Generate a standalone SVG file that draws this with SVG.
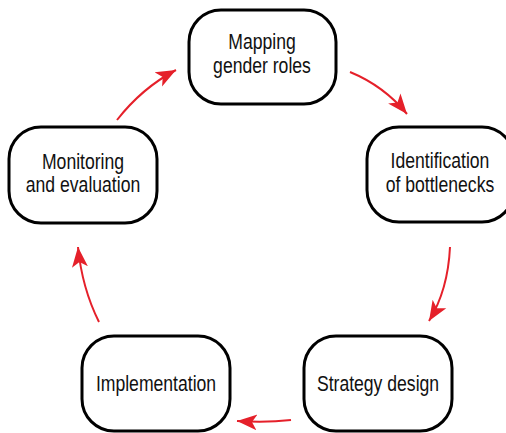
<svg xmlns="http://www.w3.org/2000/svg" width="506" height="433" viewBox="0 0 506 433">
<style>
.box{fill:#fff;stroke:#000;stroke-width:3}
.lbl{font-family:"Liberation Sans",Arial,sans-serif;font-size:22px;fill:#111;text-anchor:middle}
.arc{fill:none;stroke:#e5202a;stroke-width:2}
</style>
<defs>
<marker id="ah" markerUnits="userSpaceOnUse" markerWidth="22" markerHeight="18" refX="20" refY="8" orient="auto" viewBox="0 0 22 16">
<path d="M0,0 L20,8 L0,16 L5,8 Z" fill="#e5202a"/>
</marker>
</defs>
<rect width="506" height="433" fill="#fff"/>
<g id="connectors">
<path class="arc" marker-end="url(#ah)" d="M350,72 Q384,86 407,114"/>
<path class="arc" marker-end="url(#ah)" d="M450,247 Q448,290 429,321"/>
<path class="arc" marker-end="url(#ah)" d="M291,420 Q266,423 237,421"/>
<path class="arc" marker-end="url(#ah)" d="M99,322 Q82,288 78,247"/>
<path class="arc" marker-end="url(#ah)" d="M117,120 Q142,88 176,70"/>
</g>
<g id="mapping">
<rect class="box" x="189" y="10" width="147" height="94" rx="32"/>
<text class="lbl" transform="translate(262,49) scale(0.8,1)">Mapping</text>
<text class="lbl" transform="translate(262,73) scale(0.8,1)">gender roles</text>
</g>
<g id="identification">
<rect class="box" x="367" y="127" width="147" height="95" rx="32"/>
<text class="lbl" transform="translate(440,168) scale(0.8,1)">Identification</text>
<text class="lbl" transform="translate(440,192) scale(0.8,1)">of bottlenecks</text>
</g>
<g id="strategy">
<rect class="box" x="304" y="336" width="148" height="95" rx="32"/>
<text class="lbl" transform="translate(378,391) scale(0.8,1)">Strategy design</text>
</g>
<g id="implementation">
<rect class="box" x="82" y="336" width="148" height="95" rx="32"/>
<text class="lbl" transform="translate(156,391) scale(0.8,1)">Implementation</text>
</g>
<g id="monitoring">
<rect class="box" x="9" y="127" width="148" height="96" rx="32"/>
<text class="lbl" transform="translate(83,169) scale(0.8,1)">Monitoring</text>
<text class="lbl" transform="translate(83,192) scale(0.8,1)">and evaluation</text>
</g>
</svg>
